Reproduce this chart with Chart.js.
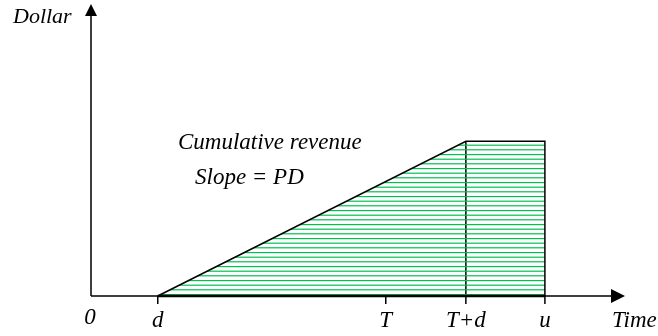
<!DOCTYPE html>
<html>
<head>
<meta charset="utf-8">
<script src="https://cdn.jsdelivr.net/npm/chart.js@4.4.1/dist/chart.umd.min.js"></script>
<style>
  html, body { margin: 0; padding: 0; background: #fff; }
  #wrap { width: 658px; height: 336px; }
</style>
</head>
<body>
<div id="wrap"><canvas id="revChart"></canvas></div>
<script>
// ----- DATA -----
const timeTicks = [0, 1.25, 5.52, 7.02, 8.5];
const timeLabels = ["0", "d", "T", "T+d", "u"];
const revenueX = [1.25, 7.02, 8.5, 8.5];
const revenueY = [0, 5.3, 5.3, 0];
const peakX = [7.02, 7.02];
const peakY = [0, 5.3];
const axisMax = 10;

const fontFamily = "'Liberation Serif', 'Times New Roman', serif";

// ----- HATCH PATTERN (horizontal green lines) -----
function makeHatch() {
    const c = document.createElement("canvas");
    c.width = 8;
    c.height = 14;
    const g = c.getContext("2d");
    g.strokeStyle = "#00c050";
    g.lineWidth = 1.2;
    [0.6, 5.2, 9.8].forEach(y => {
        g.beginPath();
        g.moveTo(0, y);
        g.lineTo(8, y);
        g.stroke();
    });
    return g.createPattern(c, "repeat");
}

// ----- AXES, ARROWS, LABELS -----
const axesPlugin = {
    id: "axes",
    afterDatasetsDraw(chart) {
        const ctx = chart.ctx;
        const xs = chart.scales.x;
        const ys = chart.scales.y;
        const x0 = xs.getPixelForValue(0);
        const y0 = ys.getPixelForValue(0);
        const xEnd = xs.getPixelForValue(axisMax);
        const yEnd = ys.getPixelForValue(axisMax);

        ctx.save();
        ctx.strokeStyle = "#000";
        ctx.fillStyle = "#000";
        ctx.lineWidth = 1.5;

        // axis lines
        ctx.beginPath();
        ctx.moveTo(x0, y0);
        ctx.lineTo(x0, yEnd + 12);
        ctx.moveTo(x0, y0);
        ctx.lineTo(xEnd - 14, y0);
        ctx.stroke();

        // thicker base under the revenue area
        ctx.lineWidth = 2.5;
        ctx.beginPath();
        ctx.moveTo(xs.getPixelForValue(revenueX[0]), y0);
        ctx.lineTo(xs.getPixelForValue(revenueX[revenueX.length - 1]), y0);
        ctx.stroke();
        ctx.lineWidth = 1.5;

        // arrow heads
        ctx.beginPath();
        ctx.moveTo(x0, yEnd);
        ctx.lineTo(x0 - 6, yEnd + 12);
        ctx.lineTo(x0 + 6, yEnd + 12);
        ctx.closePath();
        ctx.fill();
        ctx.beginPath();
        ctx.moveTo(xEnd, y0);
        ctx.lineTo(xEnd - 14, y0 - 7);
        ctx.lineTo(xEnd - 14, y0 + 7);
        ctx.closePath();
        ctx.fill();

        // ticks + labels
        ctx.font = "italic 23px " + fontFamily;
        ctx.textAlign = "center";
        ctx.textBaseline = "alphabetic";
        timeTicks.forEach((v, i) => {
            const px = xs.getPixelForValue(v);
            if (v !== 0) {
                ctx.beginPath();
                ctx.moveTo(px, y0);
                ctx.lineTo(px, y0 + 8);
                ctx.stroke();
            }
            ctx.fillText(timeLabels[i], px - (v === 0 ? 1 : 0), y0 + (v === 0 ? 28 : 31));
        });

        // axis titles
        ctx.textAlign = "left";
        ctx.fillText("Time", 612, 327);
        ctx.font = "italic 22px " + fontFamily;
        ctx.fillText("Dollar", 13, 23);

        // annotation
        ctx.font = "italic 23px " + fontFamily;
        ctx.fillText("Cumulative revenue", 178, 149);
        ctx.fillText("Slope = PD", 195, 184);
        ctx.restore();
    }
};

// ----- CHART -----
const ctx = document.getElementById("revChart").getContext("2d");

new Chart(ctx, {
    type: "line",
    data: {
        datasets: [{
            data: revenueX.map((x, i) => ({ x: x, y: revenueY[i] })),
            fill: "origin",
            backgroundColor: makeHatch(),
            borderColor: "#000",
            borderWidth: 1.5,
            pointRadius: 0,
            tension: 0,
            clip: false
        }, {
            data: peakX.map((x, i) => ({ x: x, y: peakY[i] })),
            fill: false,
            borderColor: "#000",
            borderWidth: 1.5,
            pointRadius: 0,
            clip: false
        }]
    },
    options: {
        responsive: true,
        maintainAspectRatio: false,
        animation: false,
        layout: { padding: { left: 91, right: 33, top: 4, bottom: 40 } },
        plugins: { legend: { display: false }, tooltip: { enabled: false } },
        scales: {
            x: { type: "linear", display: false, min: 0, max: axisMax },
            y: { type: "linear", display: false, min: 0, max: axisMax }
        }
    },
    plugins: [axesPlugin]
});
</script>
</body>
</html>
